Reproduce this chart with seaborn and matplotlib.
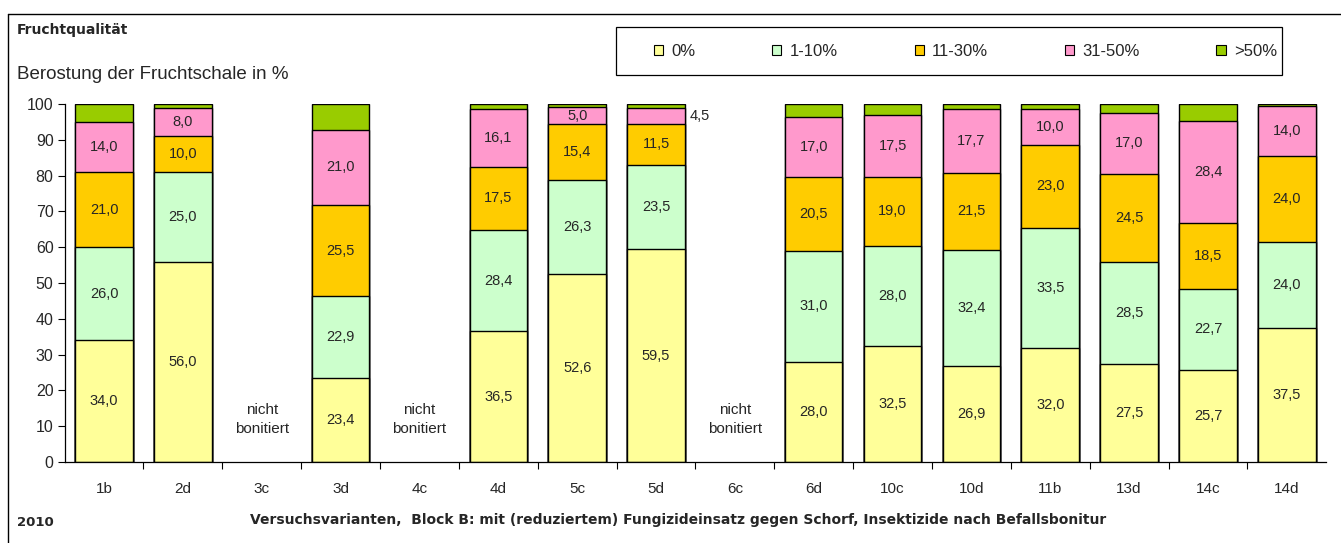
import numpy as np
import pandas as pd
import matplotlib
matplotlib.use('Agg')
import matplotlib.pyplot as plt
import seaborn as sns
from matplotlib.patches import Patch, Rectangle
from matplotlib.lines import Line2D

# ---------------------------------------------------------
# Data, NaN = nicht bonitiert
# ---------------------------------------------------------
varianten = ['1b', '2d', '3c', '3d', '4c', '4d', '5c', '5d', '6c',
             '6d', '10c', '10d', '11b', '13d', '14c', '14d']
klasse_0 = [34.0, 56.0, np.nan, 23.4, np.nan, 36.5, 52.6, 59.5, np.nan,
            28.0, 32.5, 26.9, 32.0, 27.5, 25.7, 37.5]
klasse_1_10 = [26.0, 25.0, np.nan, 22.9, np.nan, 28.4, 26.3, 23.5, np.nan,
               31.0, 28.0, 32.4, 33.5, 28.5, 22.7, 24.0]
klasse_11_30 = [21.0, 10.0, np.nan, 25.5, np.nan, 17.5, 15.4, 11.5, np.nan,
                20.5, 19.0, 21.5, 23.0, 24.5, 18.5, 24.0]
klasse_31_50 = [14.0, 8.0, np.nan, 21.0, np.nan, 16.1, 5.0, 4.5, np.nan,
                17.0, 17.5, 17.7, 10.0, 17.0, 28.4, 14.0]
klasse_gt50 = [5.0, 1.0, np.nan, 7.2, np.nan, 1.5, 0.7, 1.0, np.nan,
               3.5, 3.0, 1.5, 1.5, 2.5, 4.7, 0.5]

klassen = ['0%', '1-10%', '11-30%', '31-50%', '>50%']
farben = ['#FFFF99', '#CCFFCC', '#FFCC00', '#FF99CC', '#99CC00']
beschriftet = [True, True, True, True, False]

df = pd.DataFrame({'Variante': varianten, '0%': klasse_0, '1-10%': klasse_1_10,
                   '11-30%': klasse_11_30, '31-50%': klasse_31_50, '>50%': klasse_gt50})
df = df.set_index('Variante')
cum = df[klassen].cumsum(axis=1)

sns.set_style('white')
plt.rcParams['font.family'] = ['Liberation Sans', 'DejaVu Sans']

fig = plt.figure(figsize=(13.41, 5.43), dpi=100)
ax = fig.add_axes([0.0482, 0.149, 0.9408, 0.6593])

# overlay cumulative bars, top class first
for k, col in reversed(list(zip(klassen, farben))):
    d = cum[k].dropna().reset_index()
    sns.barplot(data=d, x='Variante', y=k, order=varianten, color=col,
                width=0.73, edgecolor='black', linewidth=1.0,
                errorbar=None, saturation=1, ax=ax)

# value labels
for i, v in enumerate(varianten):
    if np.isnan(df.loc[v, '0%']):
        ax.text(i, 12, 'nicht\nbonitiert', ha='center', va='center',
                fontsize=11, linespacing=1.45)
        continue
    bottom = 0
    for k, show in zip(klassen, beschriftet):
        val = df.loc[v, k]
        if show:
            txt = f'{val:.1f}'.replace('.', ',')
            if val < 4.9:
                ax.text(i + 0.42, bottom + val / 2, txt, ha='left', va='center',
                        fontsize=10.5)
            else:
                ax.text(i, bottom + val / 2, txt, ha='center', va='center',
                        fontsize=10.5)
        bottom += val

ax.set_xlim(-0.5, len(varianten) - 0.5)
ax.set_ylim(0, 100)
ax.set_yticks(range(0, 101, 10))
ax.set_xticks(np.arange(len(varianten) - 1) + 0.5, minor=True)
ax.tick_params(axis='x', which='major', length=0, pad=14, labelsize=11)
ax.tick_params(axis='x', which='minor', length=5, width=0.8, direction='out',
               bottom=True, color='black')
ax.tick_params(axis='y', length=5, width=0.8, direction='out', left=True,
               labelsize=11.5, pad=3, color='black')
ax.set_xlabel('')
ax.set_ylabel('')
for s in ['top', 'right']:
    ax.spines[s].set_visible(False)
for s in ['left', 'bottom']:
    ax.spines[s].set_color('black')
    ax.spines[s].set_linewidth(0.9)

# texts around the plot
fig.text(0.0127, 0.945, 'Fruchtqualität', fontsize=10, fontweight='bold',
         va='center', ha='left', family='DejaVu Sans')
fig.text(0.0127, 0.862, 'Berostung der Fruchtschale in %', fontsize=13.5,
         va='center', ha='left')
fig.text(0.0127, 0.038, '2010', fontsize=9.5, fontweight='bold', va='center',
         ha='left', family='DejaVu Sans')
fig.text(0.5055, 0.043, 'Versuchsvarianten,  Block B: mit (reduziertem) Fungizideinsatz '
         'gegen Schorf, Insektizide nach Befallsbonitur', fontsize=10,
         fontweight='bold', va='center', ha='center', family='DejaVu Sans')

# legend box + entries
fig.add_artist(Rectangle((616 / 1341, 1 - 75 / 543), (1282 - 616) / 1341, 48 / 543,
                         transform=fig.transFigure, facecolor='white',
                         edgecolor='black', linewidth=0.9))
handles = [Patch(facecolor=c, edgecolor='black', linewidth=0.8, label=k)
           for k, c in zip(klassen, farben)]
fig.legend(handles=handles, loc='center left', ncol=5,
           bbox_to_anchor=(654 / 1341, 1 - 51 / 543), frameon=False,
           fontsize=12, handlelength=0.55, handleheight=0.55,
           handletextpad=0.5, columnspacing=4.6, borderpad=0, borderaxespad=0)

# outer chart frame
fig.add_artist(Line2D([0.006, 1.0], [0.974, 0.974], transform=fig.transFigure,
                      color='black', linewidth=1.0))
fig.add_artist(Line2D([0.006, 0.006], [0.0, 0.974], transform=fig.transFigure,
                      color='black', linewidth=1.0))

fig.savefig('out.png', dpi=100)
